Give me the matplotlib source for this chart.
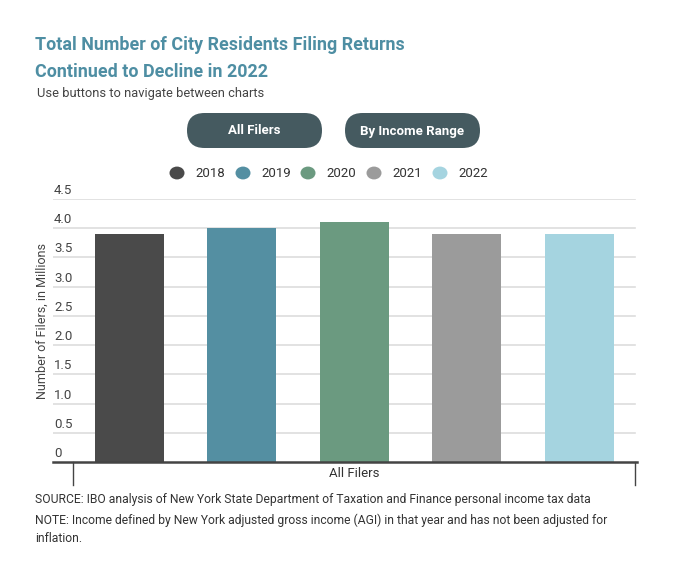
import matplotlib
matplotlib.use("Agg")
import matplotlib.pyplot as plt
from matplotlib.patches import FancyBboxPatch, Circle

years = ["2018", "2019", "2020", "2021", "2022"]
filers_millions = [3.90, 4.00, 4.11, 3.90, 3.90]
colors = ["#4a4a4a", "#548fa2", "#6b9a80", "#9b9b9b", "#a5d4e0"]
category = "All Filers"
y_ticks = [0, 0.5, 1.0, 1.5, 2.0, 2.5, 3.0, 3.5, 4.0, 4.5]
y_tick_labels = ["0", "0.5", "1.0", "1.5", "2.0", "2.5", "3.0", "3.5", "4.0", "4.5"]
buttons = ["All Filers", "By Income Range"]

W, H = 673, 577
plt.rcParams['font.family'] = ['Roboto', 'DejaVu Sans']
fig = plt.figure(figsize=(W / 100, H / 100), dpi=100)

def fx(x):
    return x / W

def fy(y):
    return 1 - y / H

# Axes
ax_l, ax_r, ax_t, ax_b = 53, 637, 199, 462
ax = fig.add_axes([fx(ax_l), fy(ax_b), (ax_r - ax_l) / W, (ax_b - ax_t) / H])
x = list(range(len(years)))
ax.bar(x, filers_millions, width=0.615, color=colors, zorder=3)
ax.set_ylim(0, 4.5)
ax.set_xlim(-0.68, 4.515)
for t in y_ticks[1:]:
    ax.axhline(t, xmin=0, xmax=(4.5 + 0.68) / (4.515 + 0.68), color="#dddddd", lw=1.2, zorder=1)
for s in ax.spines.values():
    s.set_visible(False)
ax.set_xticks([])
ax.set_yticks([])
ax.axhline(0, color="#444444", lw=1.8, zorder=4, clip_on=False)
for t, lab in zip(y_ticks, y_tick_labels):
    ax.text(-0.67, t + 0.035, lab, ha="left", va="bottom", fontsize=9.5, color="#444444")
# category bracket ticks
for xb in (-0.5, 4.5):
    ax.plot([xb, xb], [0, -0.4], color="#444444", lw=1, clip_on=False)
ax.text(2.0, -0.19, category, ha="center", va="center", fontsize=9.5, color="#333333")

fig.text(fx(42), fy(321), "Number of Filers, in Millions", rotation=90, ha="center", va="center",
         fontsize=9, color="#444444")

# Title
title_color = "#4e8ea3"
fig.text(fx(35), fy(45), "Total Number of City Residents Filing Returns", ha="left", va="center",
         fontsize=12.9, fontweight="bold", color=title_color)
fig.text(fx(35), fy(72), "Continued to Decline in 2022", ha="left", va="center",
         fontsize=12.9, fontweight="bold", color=title_color)
fig.text(fx(37), fy(93), "Use buttons to navigate between charts", ha="left", va="center",
         fontsize=9.3, color="#444444")

# Buttons
btn_boxes = [(187, 322), (345, 480)]
for (bx0, bx1), lab in zip(btn_boxes, buttons):
    p = FancyBboxPatch((fx(bx0), fy(148)), (bx1 - bx0) / W, 35 / H,
                       boxstyle="round,pad=0,rounding_size=0.026",
                       transform=fig.transFigure, facecolor="#455a60", edgecolor="none",
                       mutation_aspect=W / H)
    fig.patches.append(p)
    fig.text(fx((bx0 + bx1) / 2), fy(131), lab, ha="center", va="center", fontsize=9.5,
             fontweight="bold", color="white")

# Legend
leg_x = [177, 243, 308, 374, 440]
for lx, yr, c in zip(leg_x, years, colors):
    circ = Circle((fx(lx), fy(173)), 7.5 / W, transform=fig.transFigure, facecolor=c,
                  edgecolor="none")
    fig.patches.append(circ)
    fig.text(fx(lx + 18), fy(173.5), yr, ha="left", va="center", fontsize=9.5, color="#333333")

# Footer
foot = [
    (500, "SOURCE: IBO analysis of New York State Department of Taxation and Finance personal income tax data"),
    (520, "NOTE: Income defined by New York adjusted gross income (AGI) in that year and has not been adjusted for"),
    (539, "inflation."),
]
for yy, t in foot:
    fig.text(fx(35), fy(yy), t, ha="left", va="center", fontsize=8.7, color="#333333")

fig.savefig("out.png", dpi=100)
